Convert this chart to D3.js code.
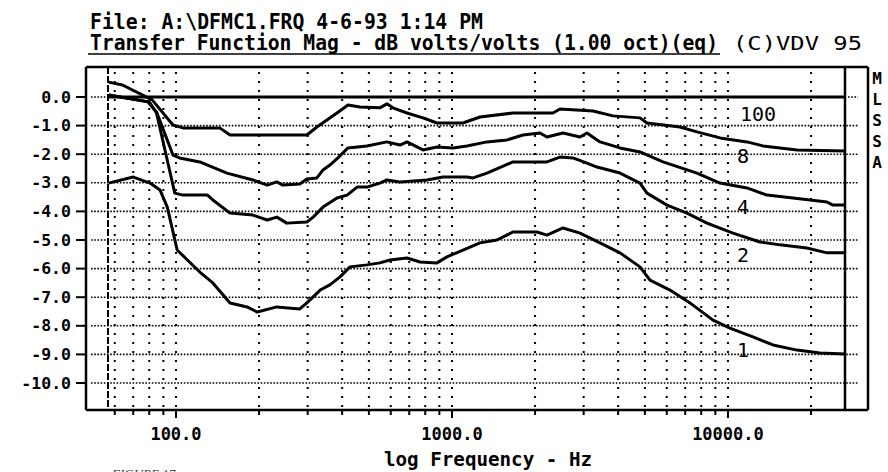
<!DOCTYPE html>
<html>
<head>
<meta charset="utf-8">
<script src="https://cdn.jsdelivr.net/npm/d3@7"></script>
<style>
  body { margin: 0; background: #fff; }
  svg { display: block; }
</style>
</head>
<body>
<script>
// measured curves, [frequency Hz, dB]
var curve100 = [[57,0.52],[64,0.42],[82,-0.10],[97.5,-0.98],[106,-1.08],[144,-1.08],[157,-1.33],[298,-1.33],
  [324,-1.05],[383,-0.56],[420,-0.28],[464,-0.35],[548,-0.38],[581,-0.24],[611,-0.38],[687,-0.56],[785,-0.73],
  [882,-0.91],[1096,-0.91],[1263,-0.70],[1663,-0.56],[2322,-0.56],[2462,-0.42],[3243,-0.49],[3831,-0.66],
  [4800,-0.73],[5088,-0.91],[6700,-1.05],[7721,-1.22],[9355,-1.43],[11718,-1.57],[13391,-1.71],[17783,-1.85],[26546,-1.89]];

var curve8 = [[57,0.07],[79,-0.17],[85,-0.52],[97.5,-2.03],[103,-2.13],[122,-2.27],[153,-2.66],[190,-2.90],
  [214,-3.08],[232,-2.97],[244,-3.08],[281,-3.04],[298,-2.87],[324,-2.83],[341,-2.55],[361,-2.38],[386,-2.13],
  [420,-1.78],[492,-1.71],[581,-1.57],[648,-1.68],[687,-1.57],[785,-1.85],[882,-1.75],[1008,-1.78],[1133,-1.71],
  [1339,-1.57],[1582,-1.50],[1808,-1.33],[2084,-1.26],[2209,-1.40],[2525,-1.26],[2910,-1.40],[3084,-1.26],
  [3438,-1.57],[4062,-1.78],[4800,-1.92],[5816,-2.27],[7721,-2.66],[9355,-3.01],[11718,-3.18],[13846,-3.43],
  [17200,-3.53],[22842,-3.67],[24020,-3.78],[26546,-3.78]];

var curve4 = [[57,0.07],[80,-0.17],[85,-0.56],[99,-3.36],[106,-3.43],[130,-3.43],[136,-3.60],[157,-4.06],
  [190,-4.13],[214,-4.30],[232,-4.20],[252,-4.41],[298,-4.37],[314,-4.20],[341,-3.85],[383,-3.53],[417,-3.43],
  [453,-3.15],[492,-3.15],[548,-3.01],[581,-2.90],[648,-2.97],[812,-2.90],[928,-2.80],[1133,-2.80],[1192,-2.83],
  [1339,-2.66],[1663,-2.27],[2209,-2.27],[2462,-2.10],[2744,-2.13],[3084,-2.31],[3352,-2.45],[4062,-2.66],
  [4800,-3.01],[5088,-3.36],[6012,-3.78],[7102,-4.06],[8394,-4.41],[10426,-4.76],[13058,-5.07],[15431,-5.17],
  [19330,-5.28],[22842,-5.45],[26546,-5.45]];

var curve1 = [[57,-3.01],[70,-2.80],[80.5,-3.01],[87.5,-3.25],[93,-3.85],[101,-5.35],[110,-5.70],[122,-6.12],
  [136,-6.50],[157,-7.20],[181,-7.34],[197,-7.52],[232,-7.34],[281,-7.41],[298,-7.20],[333,-6.75],[361,-6.57],
  [393,-6.29],[427,-5.94],[492,-5.87],[548,-5.80],[596,-5.70],[687,-5.63],[766,-5.77],[882,-5.80],[959,-5.59],
  [1096,-5.35],[1263,-5.10],[1455,-5.00],[1663,-4.72],[2032,-4.72],[2209,-4.83],[2525,-4.58],[2910,-4.76],
  [3438,-5.10],[4062,-5.45],[4800,-5.94],[5217,-6.40],[6165,-6.75],[7283,-7.20],[8825,-7.80],[10167,-8.08],
  [12316,-8.39],[14557,-8.67],[17783,-8.85],[21544,-8.95],[26546,-8.99]];

var curveLabels = ["100", "8", "4", "2", "1"];
var labelFreqs = [12845, 11330, 11330, 11330, 11330];
var labelDb = [-0.59, -2.06, -3.85, -5.52, -8.85];

var gridFreqs = [60,70,80,90,100,200,300,400,500,600,700,800,900,1000,2000,3000,4000,5000,6000,7000,8000,9000,10000,20000];
var xTicks = [100, 1000, 10000];
var yTicks = [0,-1,-2,-3,-4,-5,-6,-7,-8,-9,-10];
var markerFreq = 56.7;
var sideLetters = ["M","L","S","S","A"];

var W = 888, H = 472;
var plotL = 86, plotR = 845, outerR = 868, plotT = 67, plotB = 410;

var x = d3.scaleLog().domain([47.2, 26550]).range([plotL, plotR]);
var y = d3.scaleLinear().domain([0, -10]).range([97, 383]);

var svg = d3.select("body").append("svg").attr("width", W).attr("height", H);

var mono = "'DejaVu Sans Mono', monospace";

// title lines
svg.append("text").attr("x", 90).attr("y", 29)
  .attr("font-family", mono).attr("font-weight", "bold").attr("font-size", 22)
  .attr("textLength", 393).attr("lengthAdjust", "spacingAndGlyphs")
  .text("File: A:\\DFMC1.FRQ 4-6-93 1:14 PM");
svg.append("text").attr("x", 90).attr("y", 50)
  .attr("font-family", mono).attr("font-weight", "bold").attr("font-size", 21)
  .attr("textLength", 628).attr("lengthAdjust", "spacingAndGlyphs")
  .text("Transfer Function Mag - dB volts/volts (1.00 oct)(eq)");
svg.append("line").attr("x1", 88).attr("x2", 720).attr("y1", 54).attr("y2", 54)
  .attr("stroke", "#000").attr("stroke-width", 1.5);
svg.append("text").attr("x", 733).attr("y", 50)
  .attr("font-family", mono).attr("font-size", 20)
  .attr("textLength", 129).attr("lengthAdjust", "spacingAndGlyphs")
  .text("(C)VDV 95");

// grid
svg.append("g").selectAll("line").data(gridFreqs).enter().append("line")
  .attr("x1", function(d) { return x(d); }).attr("x2", function(d) { return x(d); })
  .attr("y1", plotT + 5).attr("y2", plotB)
  .attr("stroke", "#000").attr("stroke-width", 2).attr("stroke-dasharray", "2,7");

svg.append("g").selectAll("line").data(yTicks.slice(1)).enter().append("line")
  .attr("x1", plotL + 5).attr("x2", 858)
  .attr("y1", function(d) { return y(d); }).attr("y2", function(d) { return y(d); })
  .attr("stroke", "#000").attr("stroke-width", 1.6).attr("stroke-dasharray", "1.6,1.6");

// dotted stubs either side of the zero line
svg.append("line").attr("x1", plotL + 5).attr("x2", x(markerFreq))
  .attr("y1", y(0)).attr("y2", y(0))
  .attr("stroke", "#000").attr("stroke-width", 1.6).attr("stroke-dasharray", "1.6,1.6");
svg.append("line").attr("x1", plotR + 3).attr("x2", 858)
  .attr("y1", y(0)).attr("y2", y(0))
  .attr("stroke", "#000").attr("stroke-width", 1.6).attr("stroke-dasharray", "1.6,1.6");

// zero reference
svg.append("line").attr("x1", x(markerFreq)).attr("x2", plotR)
  .attr("y1", y(0)).attr("y2", y(0))
  .attr("stroke", "#000").attr("stroke-width", 3);

// dashed low-frequency marker
svg.append("line").attr("x1", x(markerFreq)).attr("x2", x(markerFreq))
  .attr("y1", plotT).attr("y2", plotB)
  .attr("stroke", "#000").attr("stroke-width", 2).attr("stroke-dasharray", "7,2");

// frame
var frame = svg.append("g").attr("stroke", "#000").attr("stroke-width", 2.5);
frame.append("line").attr("x1", plotL).attr("x2", outerR).attr("y1", plotT).attr("y2", plotT);
frame.append("line").attr("x1", plotL).attr("x2", outerR).attr("y1", plotB).attr("y2", plotB);
frame.append("line").attr("x1", plotL).attr("x2", plotL).attr("y1", plotT).attr("y2", plotB);
frame.append("line").attr("x1", plotR).attr("x2", plotR).attr("y1", plotT).attr("y2", plotB);
frame.append("line").attr("x1", outerR).attr("x2", outerR).attr("y1", plotT).attr("y2", plotB);

// y axis ticks and labels
var yg = svg.append("g");
yg.selectAll("line").data(yTicks).enter().append("line")
  .attr("x1", 76).attr("x2", plotL)
  .attr("y1", function(d) { return y(d); }).attr("y2", function(d) { return y(d); })
  .attr("stroke", "#000").attr("stroke-width", 2);
yg.selectAll("text").data(yTicks).enter().append("text")
  .attr("x", 71).attr("y", function(d) { return y(d) + 5.5; })
  .attr("text-anchor", "end")
  .attr("font-family", mono).attr("font-weight", "bold").attr("font-size", 16.5)
  .text(function(d) { return d.toFixed(1); });

// x axis ticks and labels
var xg = svg.append("g");
xg.selectAll("line").data(gridFreqs).enter().append("line")
  .attr("x1", function(d) { return x(d); }).attr("x2", function(d) { return x(d); })
  .attr("y1", plotB).attr("y2", function(d) { return xTicks.indexOf(d) >= 0 ? plotB + 8 : plotB + 5; })
  .attr("stroke", "#000").attr("stroke-width", 2);
xg.selectAll("text").data(xTicks).enter().append("text")
  .attr("x", function(d) { return x(d); }).attr("y", 440)
  .attr("text-anchor", "middle")
  .attr("font-family", mono).attr("font-weight", "bold").attr("font-size", 17)
  .text(function(d) { return d.toFixed(1); });

svg.append("text").attr("x", 384).attr("y", 466)
  .attr("font-family", mono).attr("font-weight", "bold").attr("font-size", 20)
  .attr("textLength", 208).attr("lengthAdjust", "spacingAndGlyphs")
  .text("log Frequency - Hz");

// curves
var line = d3.line()
  .x(function(d) { return x(d[0]); })
  .y(function(d) { return y(d[1]); });

svg.append("g").selectAll("path").data([curve100, curve8, curve4, curve1]).enter().append("path")
  .attr("d", line)
  .attr("fill", "none").attr("stroke", "#000").attr("stroke-width", 3)
  .attr("stroke-linejoin", "round");

// curve labels
svg.append("g").selectAll("text").data(curveLabels).enter().append("text")
  .attr("x", function(d, i) { return x(labelFreqs[i]); })
  .attr("y", function(d, i) { return y(labelDb[i]) + 7; })
  .attr("text-anchor", "middle")
  .attr("font-family", mono).attr("font-size", 20)
  .text(function(d) { return d; });

// side letters
svg.append("g").selectAll("text").data(sideLetters).enter().append("text")
  .attr("x", 877).attr("y", function(d, i) { return 84 + i * 21; })
  .attr("text-anchor", "middle")
  .attr("font-family", mono).attr("font-weight", "bold").attr("font-size", 16)
  .text(function(d) { return d; });

// caption, mostly cut off by the page edge
svg.append("text").attr("x", 112).attr("y", 478)
  .attr("font-family", "'Liberation Serif', serif").attr("font-style", "italic").attr("font-size", 13)
  .attr("fill", "#444")
  .text("FIGURE 17");
</script>
</body>
</html>
